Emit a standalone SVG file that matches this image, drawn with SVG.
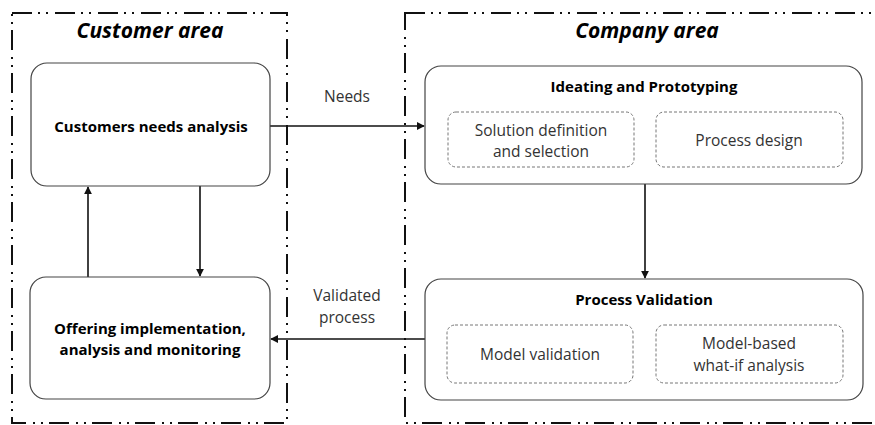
<svg xmlns="http://www.w3.org/2000/svg" width="875" height="425" viewBox="0 0 875 425">
  <style>
    text { font-family: "Open Sans", "Liberation Sans", sans-serif; fill: #222; text-anchor: middle; }
    .area { fill: none; stroke: #111; stroke-width: 2; stroke-dasharray: 20 6 2 6 2 7; }
    .title { font-size: 21px; font-weight: bold; font-style: italic; fill: #000; }
    .box { fill: #fff; stroke: #444; stroke-width: 1.2; }
    .sub { fill: #fff; stroke: #777; stroke-width: 1; stroke-dasharray: 3 2; }
    .bold { font-size: 15px; font-weight: bold; fill: #000; }
    .lbl { font-size: 15.5px; fill: #333; }
    .conn { stroke: #111; stroke-width: 1.6; fill: none; marker-end: url(#arr); }
  </style>
  <defs>
    <marker id="arr" viewBox="0 0 10 10" refX="9" refY="5" markerWidth="5" markerHeight="5" orient="auto">
      <path d="M0,0 L10,5 L0,10 z" fill="#111"/>
    </marker>
  </defs>

  <!-- swimlane areas -->
  <g id="customer-area">
    <rect class="area" x="12" y="13" width="275" height="410"/>
    <text class="title" x="150" y="38">Customer area</text>
  </g>
  <g id="company-area">
    <rect class="area" x="405" y="13" width="480" height="410"/>
    <text class="title" x="647" y="38">Company area</text>
  </g>

  <!-- connectors -->
  <g id="connectors">
    <line class="conn" x1="270" y1="126" x2="424" y2="126"/>
    <text class="lbl" x="347" y="102">Needs</text>
    <line class="conn" x1="200" y1="186" x2="200" y2="276"/>
    <line class="conn" x1="88" y1="277" x2="88" y2="187"/>
    <line class="conn" x1="645" y1="184" x2="645" y2="278"/>
    <line class="conn" x1="425" y1="339" x2="271" y2="339"/>
    <text class="lbl" x="347" y="301">Validated</text>
    <text class="lbl" x="347" y="323">process</text>
  </g>

  <g id="customers-needs">
    <rect class="box" x="31" y="63" width="239" height="123" rx="16"/>
    <text class="bold" x="151" y="132">Customers needs analysis</text>
  </g>

  <g id="offering">
    <rect class="box" x="30" y="277" width="240" height="122" rx="16"/>
    <text class="bold" x="150" y="334">Offering implementation,</text>
    <text class="bold" x="150" y="355">analysis and monitoring</text>
  </g>

  <g id="ideating">
    <rect class="box" x="425" y="66" width="437" height="118" rx="16"/>
    <text class="bold" x="644" y="92">Ideating and Prototyping</text>
    <g id="solution-definition">
      <rect class="sub" x="448" y="112" width="186" height="55" rx="8"/>
      <text class="lbl" x="541" y="136">Solution definition</text>
      <text class="lbl" x="541" y="157">and selection</text>
    </g>
    <g id="process-design">
      <rect class="sub" x="656" y="112" width="187" height="55" rx="8"/>
      <text class="lbl" x="749" y="146">Process design</text>
    </g>
  </g>

  <g id="process-validation">
    <rect class="box" x="425" y="279" width="438" height="121" rx="16"/>
    <text class="bold" x="644" y="305">Process Validation</text>
    <g id="model-validation">
      <rect class="sub" x="447" y="325" width="186" height="58" rx="8"/>
      <text class="lbl" x="540" y="360">Model validation</text>
    </g>
    <g id="what-if">
      <rect class="sub" x="656" y="325" width="187" height="58" rx="8"/>
      <text class="lbl" x="749" y="349">Model-based</text>
      <text class="lbl" x="749" y="371">what-if analysis</text>
    </g>
  </g>
</svg>
